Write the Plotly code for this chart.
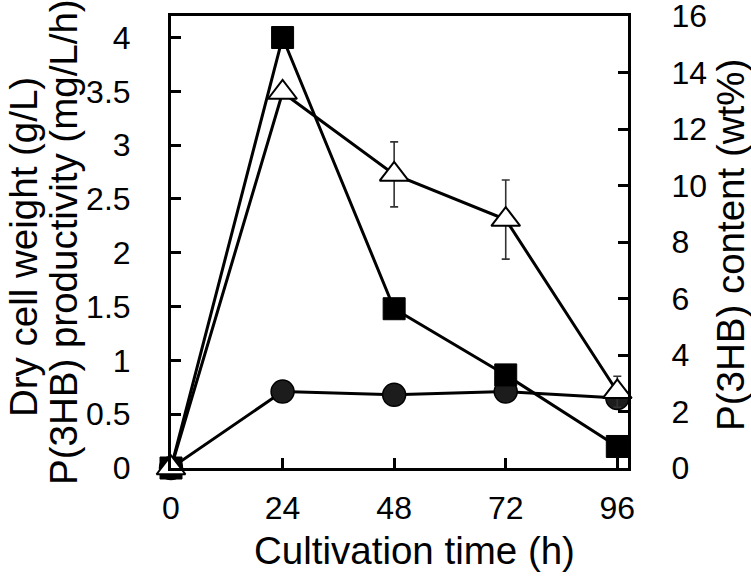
import plotly.graph_objects as go

# Data
time_h = [0, 24, 48, 72, 96]
dry_cell_weight = [0, 0.71, 0.68, 0.71, 0.65]          # g/L (circles, left axis)
productivity = [0, 4.0, 1.48, 0.865, 0.2]              # mg/L/h (squares, left axis)
content = [0, 13.3, 10.4, 8.8, 2.7]                    # wt% (triangles, right axis)
content_err = [0, 0, 1.15, 1.4, 0.55]

x_ticks = [0, 24, 48, 72, 96]
y_left_ticks = [0, 0.5, 1, 1.5, 2, 2.5, 3, 3.5, 4]
y_left_text = ["0", "0.5", "1", "1.5", "2", "2.5", "3", "3.5", "4"]
y_right_ticks = [0, 2, 4, 6, 8, 10, 12, 14, 16]

FONT = "Liberation Sans, Arial, sans-serif"
TICK_SIZE = 32
TITLE_SIZE = 38.5

# plot area in page pixels: x 171..628, y 16..468
PW, PH = 457, 452


def px_x(p):
    return (p - 171) / PW


def px_y(p):
    return (468 - p) / PH


fig = go.Figure()

fig.add_trace(go.Scatter(
    x=time_h, y=dry_cell_weight, mode="lines+markers", yaxis="y",
    line=dict(color="black", width=3),
    marker=dict(symbol="circle", size=23, color="#1c1c1c",
                line=dict(color="black", width=1.5)),
    cliponaxis=False, showlegend=False,
))
fig.add_trace(go.Scatter(
    x=time_h, y=productivity, mode="lines+markers", yaxis="y",
    line=dict(color="black", width=3),
    marker=dict(symbol="square", size=22, color="black",
                line=dict(color="black", width=1)),
    cliponaxis=False, showlegend=False,
))
fig.add_trace(go.Scatter(
    x=time_h, y=content, mode="lines+markers", yaxis="y2",
    line=dict(color="black", width=3),
    marker=dict(symbol="triangle-up", size=25, color="white",
                line=dict(color="black", width=2)),
    error_y=dict(type="data", array=content_err, visible=True,
                 color="#333333", thickness=1.6, width=4),
    cliponaxis=False, showlegend=False,
))

fig.update_layout(
    width=751, height=576,
    margin=dict(l=171, r=123, t=16, b=108),
    paper_bgcolor="white", plot_bgcolor="white",
    font=dict(family=FONT, color="black", size=TICK_SIZE),
    xaxis=dict(
        range=[0, 98.3], tickvals=x_ticks, ticks="inside", ticklen=10,
        tickwidth=2.5, tickcolor="black", showline=True, linewidth=3,
        linecolor="black", mirror=True, showgrid=False, zeroline=False,
        ticklabelstandoff=10, tickfont=dict(size=TICK_SIZE), automargin=False,
    ),
    yaxis=dict(
        range=[0, 4.2], tickvals=y_left_ticks, ticktext=y_left_text,
        ticks="inside", ticklen=10, tickwidth=2.5, tickcolor="black",
        showline=True, linewidth=3, linecolor="black", showgrid=False,
        zeroline=False, ticklabelstandoff=31, tickfont=dict(size=TICK_SIZE),
        automargin=False, ticklabeloverflow="allow",
    ),
    yaxis2=dict(
        range=[0, 16.01], tickvals=y_right_ticks, overlaying="y", side="right",
        ticks="inside", ticklen=10, tickwidth=2.5, tickcolor="black",
        showline=True, linewidth=3, linecolor="black", showgrid=False,
        zeroline=False, ticklabelstandoff=34, tickfont=dict(size=TICK_SIZE),
        automargin=False, ticklabeloverflow="allow",
    ),
    annotations=[
        dict(text="Dry cell weight (g/L)", xref="paper", yref="paper",
             x=px_x(23), y=px_y(247), xanchor="center", yanchor="middle",
             textangle=-90, showarrow=False, font=dict(size=TITLE_SIZE)),
        dict(text="P(3HB) productivity (mg/L/h)", xref="paper", yref="paper",
             x=px_x(63), y=px_y(242), xanchor="center", yanchor="middle",
             textangle=-90, showarrow=False, font=dict(size=TITLE_SIZE)),
        dict(text="P(3HB) content (wt%)", xref="paper", yref="paper",
             x=px_x(731), y=px_y(245), xanchor="center", yanchor="middle",
             textangle=-90, showarrow=False, font=dict(size=TITLE_SIZE)),
        dict(text="Cultivation time (h)", xref="paper", yref="paper",
             x=px_x(414), y=px_y(550), xanchor="center",
             yanchor="middle", showarrow=False, font=dict(size=TITLE_SIZE)),
    ],
)

fig.write_html("out.html", config={"displayModeBar": False},
               post_script="document.body.style.margin='0px';")
